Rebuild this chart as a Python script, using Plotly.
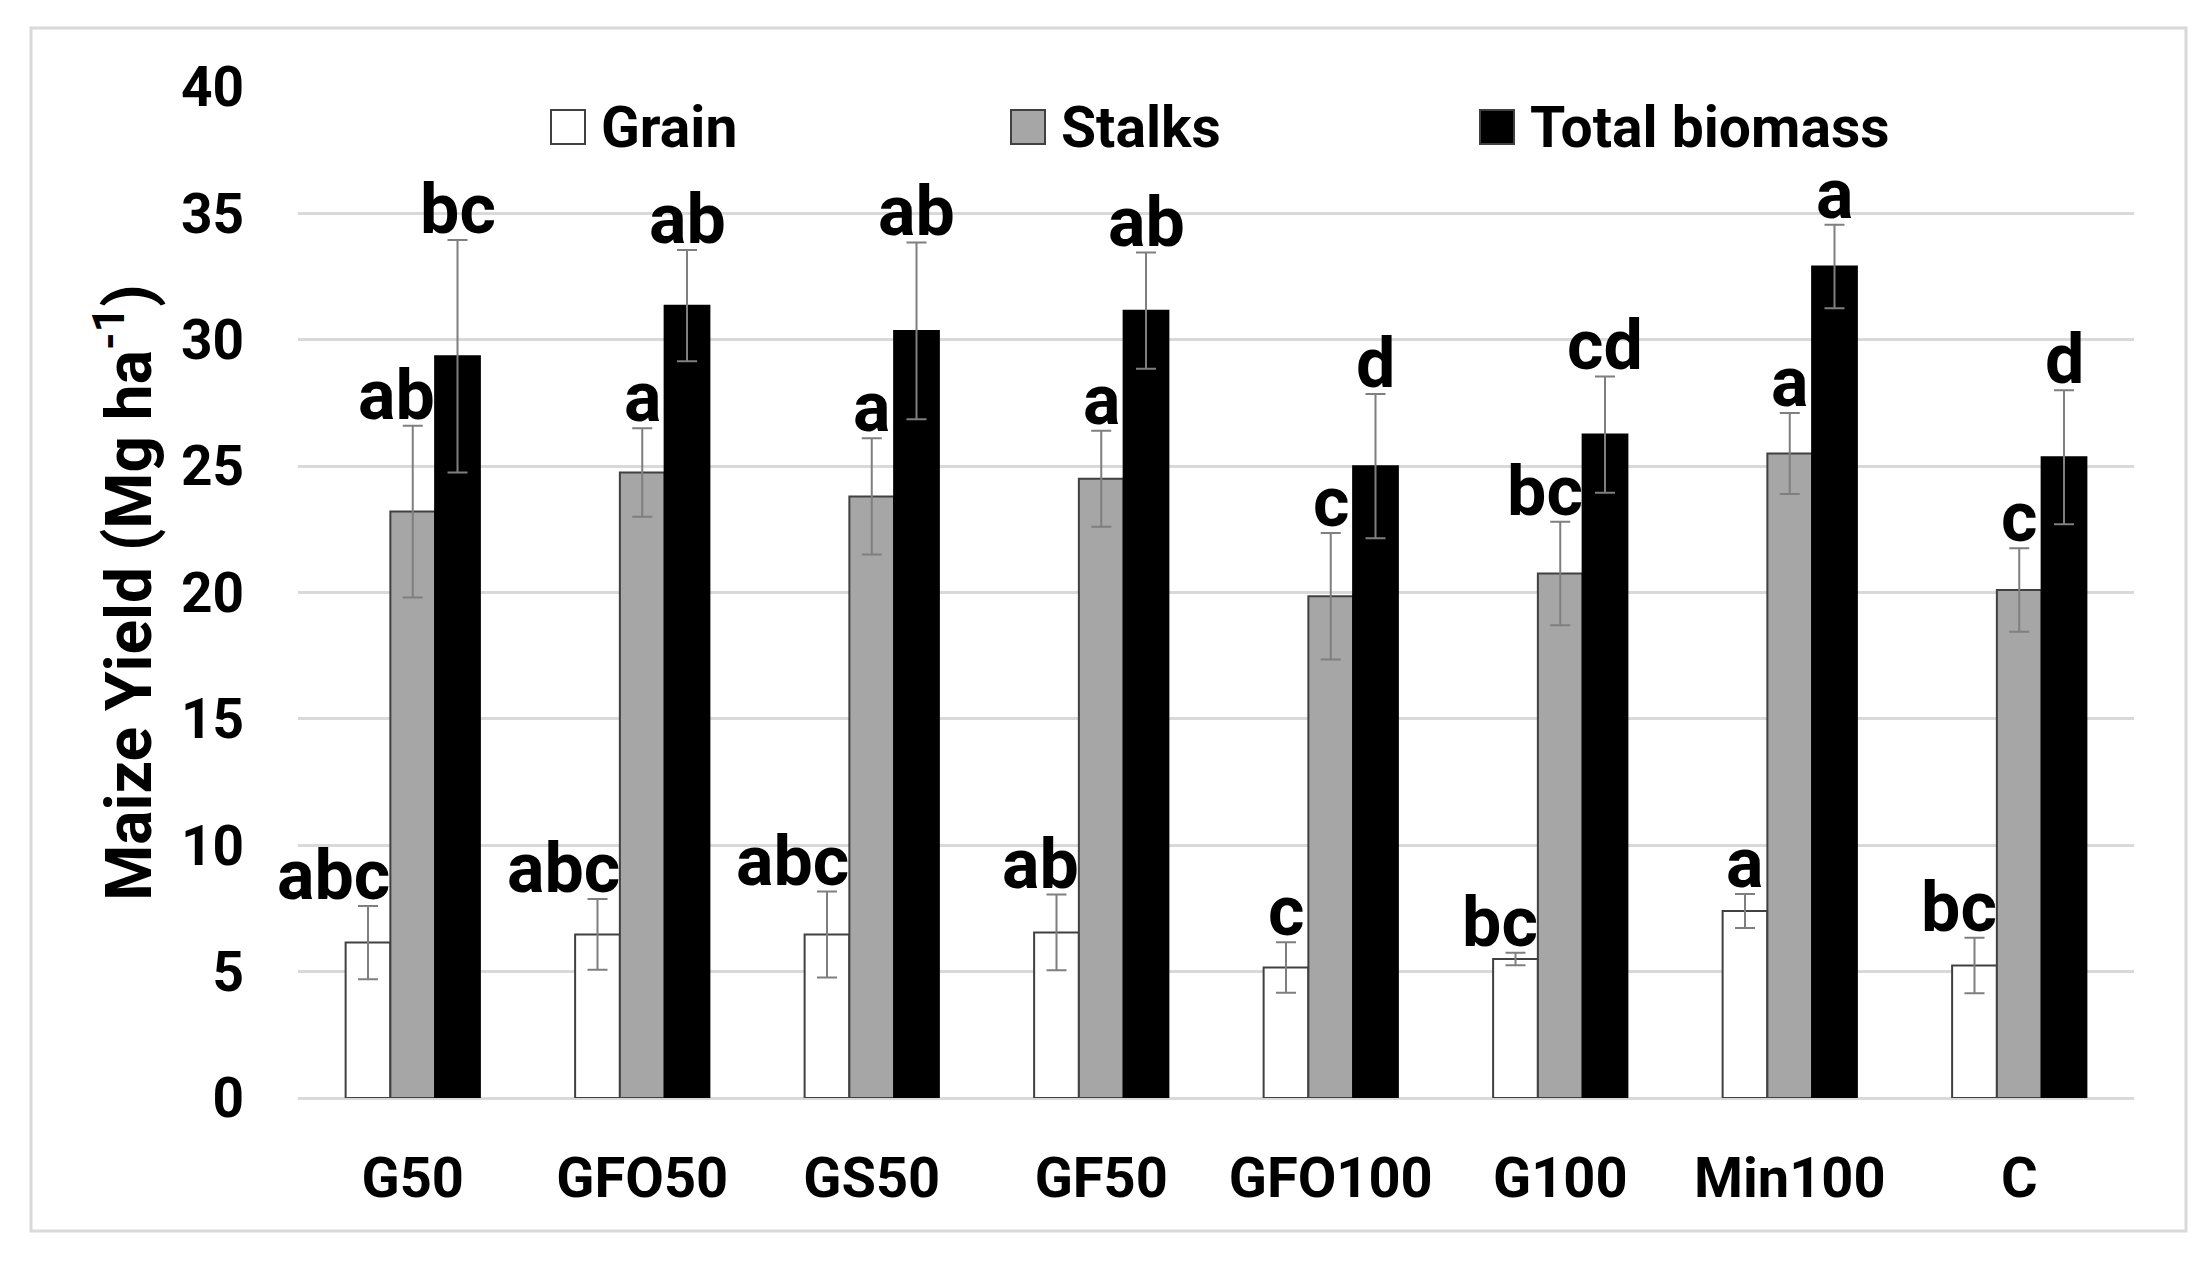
import plotly.graph_objects as go

categories = ["G50", "GFO50", "GS50", "GF50", "GFO100", "G100", "Min100", "C"]
grain = [6.15, 6.47, 6.47, 6.55, 5.16, 5.5, 7.4, 5.24]
grain_err = [1.45, 1.4, 1.7, 1.5, 1.0, 0.25, 0.67, 1.1]
stalks = [23.2, 24.75, 23.8, 24.5, 19.85, 20.75, 25.5, 20.1]
stalks_err = [3.4, 1.75, 2.3, 1.9, 2.5, 2.05, 1.6, 1.65]
total = [29.35, 31.35, 30.35, 31.15, 25.0, 26.25, 32.9, 25.35]
total_err = [4.6, 2.2, 3.5, 2.3, 2.85, 2.3, 1.65, 2.65]
grain_letters = ["abc", "abc", "abc", "ab", "c", "bc", "a", "bc"]
stalks_letters = ["ab", "a", "a", "a", "c", "bc", "a", "c"]
total_letters = ["bc", "ab", "ab", "ab", "d", "cd", "a", "d"]
series_names = ["Grain", "Stalks", "Total biomass"]
y_ticks = [0, 5, 10, 15, 20, 25, 30, 35, 40]

W, H = 2210, 1263
PAGE_OFF = 8  # default page margin of the html body
# plot area in page pixels (left, right, top, bottom)
PL, PR, PT, PB = 298, 2134, 87, 1098
ML, MT = PL - PAGE_OFF, PT - PAGE_OFF
MR, MB = W - (PR - PAGE_OFF), H - (PB - PAGE_OFF)
plot_w = W - ML - MR
plot_h = H - MT - MB
BARGAP = 0.415
FONT = "Roboto"


def px_x(px):
    return (px - PAGE_OFF - ML) / plot_w


def px_y(py):
    return (H - MB - (py - PAGE_OFF)) / plot_h


fills = ["#ffffff", "#a6a6a6", "#000000"]
outlines = ["#404040", "#404040", "#000000"]
values = [grain, stalks, total]
errors = [grain_err, stalks_err, total_err]
letters = [grain_letters, stalks_letters, total_letters]

fig = go.Figure()
for i in range(3):
    fig.add_trace(go.Bar(
        x=categories, y=values[i], name=series_names[i],
        marker=dict(color=fills[i], line=dict(color=outlines[i], width=2)),
        error_y=dict(type="data", array=errors[i], visible=True,
                     color="#7f7f7f", thickness=2, width=10),
        showlegend=False,
    ))

cat_px = plot_w / len(categories)
bar_px = cat_px * (1 - BARGAP) / 3
annotations = []
for i in range(3):
    for j, cat in enumerate(categories):
        lab = letters[i][j]
        center = (i - 1) * bar_px
        if len(lab) > 1 and i < 2:
            xanchor, xshift = "right", center + bar_px / 2 + 2
        else:
            xanchor, xshift = "center", center
        annotations.append(dict(
            x=cat, y=values[i][j] + errors[i][j], xref="x", yref="y",
            text=lab, showarrow=False, xanchor=xanchor, yanchor="bottom",
            xshift=xshift, yshift=-12,
            font=dict(family=FONT, size=70, color="black", weight=700),
        ))

# manual legend (large swatches like the original)
leg_sq_px = [551, 1011, 1480]
leg_y = px_y(127)
sq_w = 34 / plot_w
sq_h = 17 / plot_h
shapes = []
for i in range(3):
    x0 = px_x(leg_sq_px[i])
    shapes.append(dict(type="rect", xref="paper", yref="paper",
                       x0=x0, x1=x0 + sq_w, y0=leg_y - sq_h, y1=leg_y + sq_h,
                       fillcolor=fills[i], line=dict(color="#404040", width=2)))
    annotations.append(dict(x=x0 + sq_w + 14 / plot_w, y=leg_y,
                            xref="paper", yref="paper", text=series_names[i],
                            showarrow=False, xanchor="left", yanchor="middle",
                            font=dict(family=FONT, size=57, color="black", weight=700)))

# outer light-gray frame
shapes.append(dict(type="rect", xref="paper", yref="paper", layer="below",
                   x0=px_x(31), x1=px_x(2186), y0=px_y(1231), y1=px_y(28),
                   line=dict(color="#d9d9d9", width=3), fillcolor="rgba(0,0,0,0)"))

fig.update_layout(
    width=W, height=H,
    margin=dict(l=ML, r=MR, t=MT, b=MB, pad=0),
    paper_bgcolor="white", plot_bgcolor="white",
    barmode="group", bargap=BARGAP, bargroupgap=0,
    annotations=annotations, shapes=shapes,
    font=dict(family=FONT, color="black"),
)
fig.update_xaxes(
    range=[-0.5, len(categories) - 0.5], automargin=False,
    showline=False, showgrid=False, ticks="", ticklabelstandoff=42,
    tickfont=dict(family=FONT, size=56, color="black", weight=700),
)
fig.update_yaxes(
    range=[0, 40], tickvals=y_ticks, automargin=False,
    showgrid=True, gridcolor="#d9d9d9", gridwidth=3,
    zeroline=True, zerolinecolor="#d9d9d9", zerolinewidth=3, showline=False,
    ticks="", ticklabelstandoff=53,
    tickfont=dict(family=FONT, size=55, color="black", weight=700),
    title=dict(text="Maize Yield (Mg ha<sup>-1</sup>)", standoff=8,
               font=dict(family=FONT, size=64, color="black", weight=700)),
)

fig.write_html("out.html", config={"displayModeBar": False})
